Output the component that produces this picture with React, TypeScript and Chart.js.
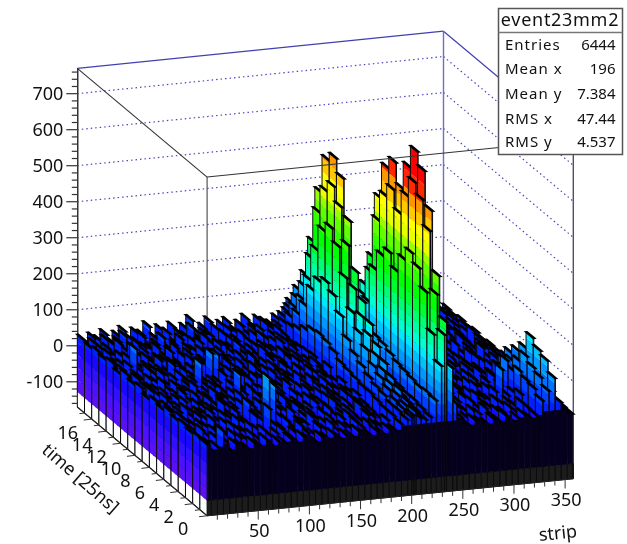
import { useEffect, useRef } from "react";
import { Chart, registerables } from "chart.js";

Chart.register(...registerables);

const strips = [0,4,10,16,22,28,34,40,46,52,58,64,70,76,82,88,94,100,106,112,118,124,130,136,142,148,154,160,166,172,178,184,190,196,200,202,204,209,214,219,224,229,232,234,240,244,250,256,262,268,274,280,286,292,298,304,310,316,322,328,334,340,346,352,357];

const time00 = [28,12,18,60,8,22,14,5,19,10,25,7,16,12,20,9,24,13,6,18,11,21,8,15,10,23,12,7,17,9,20,14, 30,40,45,50,60,40,35,40,85,180,265,300,170,70, 15,8,20,12,6,18,10,24,9,14,22,11,16,55,80,114,45,14,10];
const time01 = [30,20,9,25,14,6,28,17,11,22,8,30,13,19,26,10,16,33,12,7,24,15,29,9,18,13,27,11,21,16,8,25, 35,45,50,60,70,50,40,45,88,250,360,411,225,90, 22,12,9,27,16,30,8,19,13,25,10,34,18,70,100,145,60,16,12];
const time02 = [24,15,31,11,26,18,9,33,20,13,28,16,7,70,23,14,30,10,25,19,35,12,17,27,8,22,31,14,10,26,18,13, 35,45,55,70,85,60,45,50,85,350,520,575,320,120, 12,28,19,8,33,14,24,11,30,17,22,9,40,75,110,156,65,18,14];
const time03 = [32,22,10,28,17,35,13,24,8,30,19,12,34,21,138,114,26,15,37,11,20,29,9,24,33,14,18,28,12,35,21,16, 40,55,70,85,100,65,50,50,90,400,590,669,370,135, 25,13,34,18,27,9,30,21,14,36,95,22,28,85,125,175,70,20,12];
const time04 = [26,34,19,9,30,21,37,14,27,16,33,11,55,24,18,38,13,29,22,8,31,17,26,36,12,20,34,15,28,10,24,19, 45,60,85,105,125,80,55,55,95,425,620,706,390,140, 18,30,11,26,35,16,22,38,12,28,19,33,100,70,95,130,55,22,15];
const time05 = [34,16,29,37,12,25,18,31,22,40,10,27,35,15,23,32,19,12,28,38,14,24,9,33,21,17,30,26,13,35,20,28, 45,70,100,130,155,95,60,55,100,390,565,645,350,130, 33,14,27,40,19,24,10,31,36,15,28,42,20,60,80,105,45,16,18];
const time06 = [22,31,13,24,38,9,28,17,35,20,30,14,26,41,19,11,33,24,16,36,22,8,29,18,37,13,25,31,20,10,27,17, 50,85,130,170,200,120,70,60,110,340,500,569,310,120, 20,36,16,29,12,41,25,18,33,22,38,14,30,50,65,83,40,24,13];
const time07 = [29,20,35,15,27,42,19,32,11,25,38,22,16,30,80,24,36,13,28,20,34,17,40,11,26,32,15,23,37,19,12,30, 55,100,160,205,245,150,80,65,120,375,550,625,340,125, 30,18,38,23,14,33,27,44,16,36,21,29,12,35,25,40,19,30,15];
const time08 = [18,37,25,31,10,22,34,28,41,15,20,36,29,12,33,24,18,42,21,9,30,26,15,35,23,39,11,28,19,33,24,14, 60,125,200,265,311,190,95,70,125,350,515,592,320,120, 24,41,15,32,26,19,37,12,43,22,31,17,39,28,14,34,20,11,16];
const time09 = [33,14,28,22,40,17,30,12,25,36,85,19,32,27,44,16,22,38,13,31,25,18,36,14,29,20,43,12,34,22,27,38, 75,175,280,370,436,260,130,75,120,295,430,491,270,100, 35,20,30,45,13,38,24,33,18,41,27,15,36,22,47,19,29,14,18];
const time10 = [25,39,18,34,24,45,13,29,37,20,31,42,15,90,85,26,35,18,30,12,41,23,28,38,17,33,21,46,16,29,36,20, 85,215,350,460,539,320,160,80,110,190,270,310,170,70, 17,39,26,12,42,21,34,29,16,37,24,44,19,31,13,40,25,20,12];
const time11 = [36,23,31,15,42,27,38,20,48,12,26,34,19,44,22,31,17,39,25,35,14,47,20,29,37,11,26,33,42,18,24,32, 90,235,385,500,578,350,175,85,100,130,190,216,120,55, 40,23,33,18,36,28,14,45,25,20,38,30,16,42,27,11,35,18,15];
const time12 = [21,30,40,85,19,33,24,46,16,37,28,13,41,25,35,20,43,15,30,26,38,18,34,12,45,27,19,36,22,40,13,29, 85,220,360,470,555,330,165,80,90,90,130,150,85,45, 22,37,14,43,27,19,35,24,31,48,17,26,39,21,33,15,41,12,10];
const time13 = [35,19,27,44,30,14,39,22,33,26,47,18,31,38,12,43,24,29,36,16,27,49,21,34,15,40,28,23,44,17,33,25, 70,180,290,394,449,270,135,70,85,70,95,110,60,40, 33,18,41,25,30,46,20,16,38,28,23,43,13,35,29,19,24,14,17];
const time14 = [27,41,16,32,23,50,28,36,12,44,21,30,39,17,34,26,46,20,13,37,31,24,42,18,35,22,48,14,30,39,26,19, 55,120,190,250,294,180,90,60,80,55,70,80,50,35, 15,44,27,20,37,24,50,32,12,40,29,18,34,45,22,30,16,21,11];
const time15 = [33,22,38,18,46,26,15,41,31,24,36,52,20,29,43,13,33,27,40,21,16,44,30,25,38,12,34,47,19,28,41,23, 45,80,120,155,185,110,65,50,70,50,60,70,45,35, 38,26,19,47,23,33,28,41,21,17,35,24,52,26,15,39,27,13,16];
const time16 = [26,37,21,43,29,35,48,19,27,40,14,33,24,45,18,38,30,52,22,34,26,41,15,36,29,44,20,31,17,42,27,36, 40,55,80,105,127,80,50,45,60,45,55,60,40,30, 27,16,42,31,14,39,21,34,46,25,30,19,37,23,43,18,12,20,10];
const time17 = [31,18,34,25,40,16,32,44,21,36,28,50,17,38,26,42,23,35,55,19,30,46,24,33,39,16,28,43,22,37,29,20, 35,40,50,60,74,50,40,40,50,40,45,50,35,30, 20,35,29,13,44,26,37,18,28,41,15,33,24,48,22,31,17,11,14];
const rows = [time00,time01,time02,time03,time04,time05,time06,time07,time08,time09,time10,time11,time12,time13,time14,time15,time16,time17];

const levels = [-128,-95,-60,-25,10,40,70,100,130,160,185,215,245,275,310,350,385,420,445,480,510,545,580,630];
const palette = ["#5a10f5","#4a10ff","#3010ff","#1808ff","#0020ff","#0040ff","#0070ff","#0098ff","#00c0ff","#00e8ff","#00ffd0","#00ffa0","#00ff70","#00ff30","#00ff00","#30ff00","#60ff00","#98ff00","#e8ff00","#ffff00","#ffc800","#ff9800","#ff2800","#ff0000"];

const zTicks = [-100,0,100,200,300,400,500,600,700];
const stripTicks = [50,100,150,200,250,300,350];
const timeTicks = [0,2,4,6,8,10,12,14,16];
const stats = [["Entries","6444"],["Mean x","196"],["Mean y","7.384"],["RMS x","47.44"],["RMS y","4.537"]];

const Z_MIN = -170, Z_MAX = 770.5, STRIP_MAX = 358, TIME_MAX = 18, FRONT_CAP = 25;
const TIME_SHIFT = 7.05, STRIP_RISE = 0.288, TIME_RISE = 16.78;
const chartX = (s: number, t: number) => s - t * TIME_SHIFT;
const chartY = (s: number, t: number, z: number) => z + s * STRIP_RISE + (t - TIME_MAX) * TIME_RISE;
const FONT = '"Noto Sans"';

const lego = {
  id: "lego",
  beforeDatasetsDraw(chart: any) {
    const { ctx, scales } = chart;
    const P = (s: number, t: number, z: number): [number, number] => [scales.x.getPixelForValue(chartX(s, t)), scales.y.getPixelForValue(chartY(s, t, z))];
    const poly = (pts: [number, number][], fill?: string, stroke?: string, w = 1) => {
      ctx.beginPath();
      pts.forEach((p, i) => (i ? ctx.lineTo(p[0], p[1]) : ctx.moveTo(p[0], p[1])));
      ctx.closePath();
      if (fill) { ctx.fillStyle = fill; ctx.fill(); }
      if (stroke) { ctx.strokeStyle = stroke; ctx.lineWidth = w; ctx.stroke(); }
    };
    const line = (a: [number, number], b: [number, number], c: string, w = 1, dash: number[] = []) => {
      ctx.save(); ctx.setLineDash(dash); ctx.strokeStyle = c; ctx.lineWidth = w;
      ctx.beginPath(); ctx.moveTo(a[0], a[1]); ctx.lineTo(b[0], b[1]); ctx.stroke(); ctx.restore();
    };
    // back walls
    for (const z of zTicks) {
      line(P(0, TIME_MAX, z), P(STRIP_MAX, TIME_MAX, z), "#4848c0", 1.2, [1.5, 3]);
      line(P(STRIP_MAX, TIME_MAX, z), P(STRIP_MAX, 0, z), "#4848c0", 1.2, [1.5, 3]);
    }
    line(P(0, TIME_MAX, Z_MAX), P(STRIP_MAX, TIME_MAX, Z_MAX), "#4040b0", 1.2);
    line(P(STRIP_MAX, TIME_MAX, Z_MAX), P(STRIP_MAX, 0, Z_MAX), "#4040b0", 1.2);
    line(P(STRIP_MAX, TIME_MAX, Z_MAX), P(STRIP_MAX, TIME_MAX, Z_MIN), "#7070c0", 1.4);
    line(P(0, 0, Z_MAX), P(0, 0, Z_MIN), "#555", 1.2);
    line(P(STRIP_MAX, 0, Z_MAX), P(STRIP_MAX, 0, Z_MIN), "#505070", 1.4);

    // bars, painted from the back corner forward
    for (let t = TIME_MAX - 1; t >= 0; t--) {
      for (let i = strips.length - 1; i >= 0; i--) {
        const z = rows[t][i];
        if (z === undefined) continue;
        const s = strips[i];
        const sThin = s + 1;
        const sWide = t === 0 ? (strips[i + 1] ?? STRIP_MAX) : sThin;
        const zWide = t === 0 ? Math.min(z, FRONT_CAP) : z;
        // front face
        const lowBand = Math.min(z, levels[0]);
        poly([P(s, t, Z_MIN), P(sWide, t, Z_MIN), P(sWide, t, lowBand), P(s, t, lowBand)], "#1c1c1c", t === 0 ? "#0c0c0c" : undefined);
        poly([P(s, t, lowBand), P(sWide, t, lowBand), P(sWide, t, zWide), P(s, t, zWide)], "#05001c");
        if (z > zWide) poly([P(s, t, zWide), P(sThin, t, zWide), P(sThin, t, z), P(s, t, z)], "#05001c");
        // left face: white under the first level, then one band per level
        poly([P(s, t, Z_MIN), P(s, t + 1, Z_MIN), P(s, t + 1, lowBand), P(s, t, lowBand)], "#ffffff");
        for (let k = 0; k < levels.length; k++) {
          const lo = levels[k];
          const hi = Math.min(z, levels[k + 1] ?? Infinity);
          if (hi <= lo) break;
          poly([P(s, t, lo), P(s, t + 1, lo), P(s, t + 1, hi), P(s, t, hi)], palette[k]);
        }
        poly([P(s, t, Z_MIN), P(s, t + 1, Z_MIN), P(s, t + 1, z), P(s, t, z)], undefined, "#0a0a0a", 1);
        // top face
        poly([P(s, t, z), P(sThin, t, z), P(sThin, t + 1, z), P(s, t + 1, z)], "#000000", "#000000", 2);
      }
    }
  },
  afterDatasetsDraw(chart: any) {
    const { ctx, scales } = chart;
    const P = (s: number, t: number, z: number): [number, number] => [scales.x.getPixelForValue(chartX(s, t)), scales.y.getPixelForValue(chartY(s, t, z))];
    const seg = (x1: number, y1: number, x2: number, y2: number, c: string, w = 1) => {
      ctx.strokeStyle = c; ctx.lineWidth = w; ctx.beginPath(); ctx.moveTo(x1, y1); ctx.lineTo(x2, y2); ctx.stroke();
    };
    ctx.save();
    // front top frame passes over the bars
    let a = P(0, TIME_MAX, Z_MAX), b = P(0, 0, Z_MAX), c = P(STRIP_MAX, 0, Z_MAX);
    seg(a[0], a[1], b[0], b[1], "#333", 1.1);
    seg(b[0], b[1], c[0], c[1], "#333", 1.1);
    a = P(0, TIME_MAX, Z_MIN); b = P(0, 0, Z_MIN); c = P(STRIP_MAX, 0, Z_MIN);
    seg(a[0], a[1], b[0], b[1], "#222", 1.2);
    seg(b[0], b[1], c[0], c[1], "#222", 1.2);
    // z ticks
    const x0 = scales.y.left + scales.y.width;
    for (let z = -160; z <= 760; z += 20) {
      const y = scales.y.getPixelForValue(z);
      seg(x0, y, x0 - (z % 100 === 0 ? 11 : 5.5), y, "#333", 1.2);
    }
    // strip axis
    for (let s = 10; s <= 350; s += 10) {
      const p = P(s, 0, Z_MIN);
      seg(p[0], p[1], p[0], p[1] + (s % 50 === 0 ? 9 : 5), "#333", 1);
    }
    // time axis
    for (let t = 0; t <= 17; t++) {
      const p = P(0, t, Z_MIN);
      const m = t % 2 === 0 ? 1.6 : 1;
      seg(p[0], p[1], p[0] - 5 * m, p[1] + 0.6 * m, "#333", 1);
    }
    ctx.fillStyle = "#111";
    ctx.textAlign = "center";
    ctx.textBaseline = "middle";
    ctx.font = `18px ${FONT}`;
    for (const s of stripTicks) {
      const p = P(s, 0, Z_MIN);
      ctx.fillText(String(s), p[0] + 1, p[1] + 21.5);
    }
    for (const t of timeTicks) {
      const p = P(0, t, Z_MIN);
      ctx.fillText(String(t), p[0] - 24, p[1] + 14.5);
    }
    ctx.save(); ctx.translate(80, 479); ctx.rotate((41 * Math.PI) / 180); ctx.fillText("time [25ns]", 0, 0); ctx.restore();
    ctx.save(); ctx.translate(558, 534); ctx.rotate((-6 * Math.PI) / 180); ctx.fillText("strip", 0, 0); ctx.restore();

    // statistics box
    ctx.fillStyle = "#fff";
    ctx.fillRect(498.5, 8.5, 124, 146);
    ctx.strokeStyle = "#555"; ctx.lineWidth = 1.5;
    ctx.strokeRect(498.5, 8.5, 124, 146);
    seg(498.5, 32.5, 622.5, 32.5, "#777", 1.5);
    ctx.fillStyle = "#111";
    ctx.font = `18px ${FONT}`;
    ctx.letterSpacing = "0.7px";
    ctx.textAlign = "center";
    ctx.fillText("event23mm2", 560, 21);
    ctx.font = `15px ${FONT}`;
    const ys = [45.7, 69.3, 94.3, 119.3, 142.7];
    stats.forEach((r, i) => {
      ctx.letterSpacing = "1px";
      ctx.textAlign = "left";
      ctx.fillText(r[0], 505, ys[i]);
      ctx.letterSpacing = "0px";
      ctx.textAlign = "right";
      ctx.fillText(r[1], 615.5, ys[i]);
    });
    ctx.restore();
  },
};

export default function App() {
  const ref = useRef<HTMLCanvasElement>(null);
  useEffect(() => {
    const chart = new Chart(ref.current as HTMLCanvasElement, {
      type: "line",
      data: {
        datasets: rows.map((row, t) => ({
          label: `time ${t}`,
          data: row.map((z, i) => ({ x: chartX(strips[i], t), y: chartY(strips[i], t, z) })),
          showLine: false,
          pointRadius: 0,
          clip: false,
        })),
      },
      options: {
        animation: false,
        responsive: false,
        layout: { padding: { left: 0, right: 53.7, top: 68.3, bottom: 137 } },
        plugins: { legend: { display: false }, tooltip: { enabled: false } },
        events: [],
        scales: {
          x: { type: "linear", display: false, min: -126.9, max: STRIP_MAX },
          y: {
            type: "linear",
            min: Z_MIN,
            max: Z_MAX,
            afterFit: (scale: any) => { scale.width = 77.3; },
            afterBuildTicks: (scale: any) => { scale.ticks = zTicks.map((value) => ({ value })); },
            grid: { display: false, drawTicks: false },
            border: { display: true, color: "#333", width: 1.5 },
            ticks: { padding: 14, labelOffset: 1.5, color: "#111", font: { family: "Noto Sans", size: 18 } },
          },
        },
      } as any,
      plugins: [lego],
    });
    return () => chart.destroy();
  }, []);
  return <canvas ref={ref} width={627} height={544} style={{ position: "absolute", left: 0, top: 0, width: 627, height: 544 }} />;
}
